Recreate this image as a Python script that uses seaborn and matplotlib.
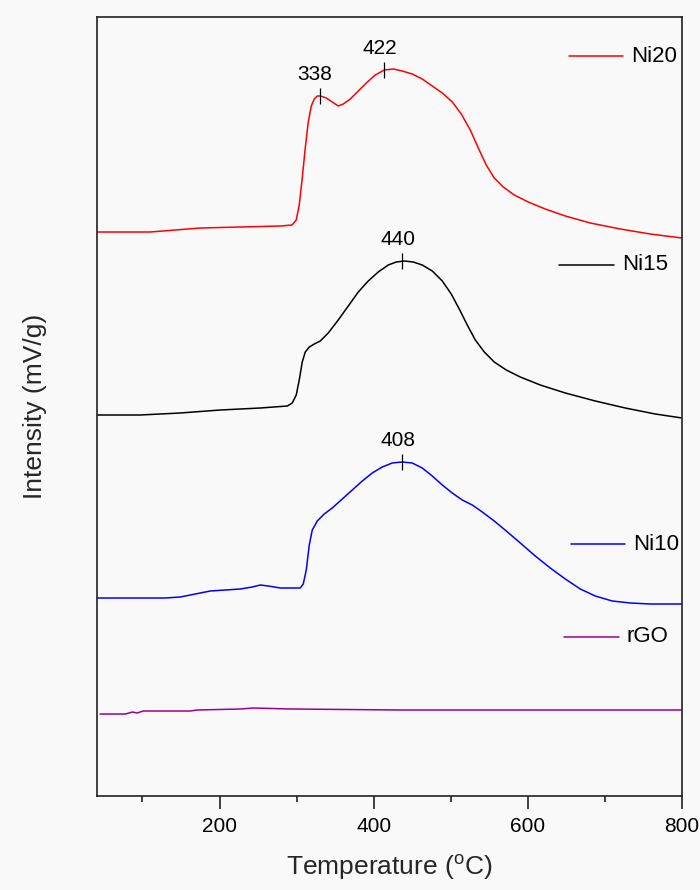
import numpy as np
import pandas as pd
import matplotlib
matplotlib.use("Agg")
import matplotlib.pyplot as plt
import seaborn as sns
from matplotlib.lines import Line2D

# ---------------- data ----------------
ni20_T = [41, 110, 142.5, 175, 227, 279, 294, 299.5, 303.4, 307.3, 311.2, 315.1, 319, 322.9, 326.8,
          330.7, 338.4, 346.2, 354, 360.5, 369.6, 380, 390.4, 402, 413.7, 425.4, 437, 450, 463, 476,
          489, 502, 513.6, 525.3, 535.7, 546, 556.4, 568.1, 582.4, 600.5, 622.6, 648.6, 681, 720,
          758.8, 800]
ni20_I = [5.64, 5.64, 5.66, 5.68, 5.69, 5.70, 5.71, 5.76, 5.91, 6.18, 6.48, 6.74, 6.90, 6.97, 7.00,
          7.00, 6.98, 6.94, 6.90, 6.92, 6.97, 7.05, 7.13, 7.21, 7.26, 7.27, 7.25, 7.22, 7.17, 7.10,
          7.03, 6.94, 6.82, 6.66, 6.48, 6.31, 6.18, 6.09, 6.01, 5.94, 5.87, 5.80, 5.73, 5.67,
          5.62, 5.58]

ni15_T = [41, 97, 149, 201, 253, 288, 294.3, 299.5, 303.4, 307.3, 311.2, 316.4, 322.9, 330.7, 341,
          354, 367, 380, 392.9, 405.9, 418.9, 429.3, 439.7, 451.3, 463, 476, 489, 500.6, 511, 521.4,
          531.8, 543.5, 556.4, 572, 590.2, 616.1, 648.6, 687.5, 726.4, 765.3, 800]
ni15_I = [3.81, 3.81, 3.83, 3.86, 3.88, 3.90, 3.93, 4.01, 4.16, 4.34, 4.44, 4.49, 4.52, 4.55, 4.63,
          4.76, 4.90, 5.04, 5.15, 5.24, 5.31, 5.34, 5.35, 5.34, 5.31, 5.25, 5.15, 5.02, 4.87, 4.71,
          4.56, 4.44, 4.34, 4.26, 4.19, 4.11, 4.03, 3.95, 3.88, 3.82, 3.78]

ni10_T = [41, 129.6, 149, 168.5, 188, 207.4, 226.9, 242.4, 252.8, 263.2, 278.8, 304.7, 308.6, 312.5,
          316.4, 320.3, 326.8, 335.8, 346.2, 359.2, 372.2, 385.2, 398.1, 411.1, 424.1, 437, 450, 463,
          476, 489, 501.9, 514.9, 527.9, 540.9, 556.4, 572, 590.2, 609.6, 629.1, 648.6, 668, 687.5,
          709.5, 732.9, 758.8, 800]
ni10_I = [1.98, 1.98, 1.99, 2.02, 2.05, 2.06, 2.07, 2.09, 2.11, 2.10, 2.08, 2.08, 2.12, 2.26,
          2.51, 2.66, 2.75, 2.82, 2.88, 2.97, 3.06, 3.15, 3.23, 3.29, 3.33, 3.34, 3.33, 3.28,
          3.20, 3.11, 3.03, 2.96, 2.91, 2.84, 2.75, 2.65, 2.53, 2.40, 2.28, 2.17, 2.07, 2.00,
          1.95, 1.93, 1.92, 1.92]

rgo_T = [45, 78, 87, 93, 101, 162, 171, 227, 244, 292, 435, 800]
rgo_I = [0.82, 0.82, 0.84, 0.83, 0.85, 0.85, 0.86, 0.87, 0.88, 0.87, 0.86, 0.86]

series_names = ["Ni20", "Ni15", "Ni10", "rGO"]
series_colors = ["#ff0000", "#000000", "#0000ff", "#990099"]

# peak markers: (series, temperature position, label)
peak_series = ["Ni20", "Ni20", "Ni15", "Ni10"]
peak_T = [330.7, 413.7, 437, 437]
peak_labels = ["338", "422", "440", "408"]

x_ticks_major = [200, 400, 600, 800]
x_ticks_minor = [100, 300, 500, 700]

# ---------------- build long table ----------------
data = {"Ni20": (ni20_T, ni20_I), "Ni15": (ni15_T, ni15_I),
        "Ni10": (ni10_T, ni10_I), "rGO": (rgo_T, rgo_I)}
frames = []
for name in series_names:
    T, I = data[name]
    frames.append(pd.DataFrame({"T": T, "I": I, "sample": name}))
df = pd.concat(frames, ignore_index=True)

# ---------------- styling ----------------
sns.set_theme(style="ticks")
plt.rcParams["font.family"] = ["Liberation Sans", "DejaVu Sans"]
plt.rcParams["mathtext.fontset"] = "custom"
plt.rcParams["mathtext.rm"] = "Liberation Sans"
bg = "#f9f9f9"

fig = plt.figure(figsize=(7.0, 8.9), dpi=100, facecolor=bg)
ax = fig.add_axes([97 / 700, 1 - 796 / 890, 585 / 700, 779 / 890], facecolor=bg)

for name, col in zip(series_names, series_colors):
    sub = df[df["sample"] == name]
    sns.lineplot(data=sub, x="T", y="I", color=col, lw=1.1, ax=ax,
                 legend=False, sort=False, estimator=None)

ax.set_xlim(41, 800)
ax.set_ylim(0, 7.79)

# peak marks and labels
for s, t, lab in zip(peak_series, peak_T, peak_labels):
    T, I = data[s]
    y = np.interp(t, T, I)
    ax.plot([t], [y], marker="|", color="black", ms=11, mew=0.9)
    ax.annotate(lab, (t, y), xytext=(-3 if lab != "338" else -4, 9),
                textcoords="offset points", ha="center", va="bottom",
                fontsize=15, color="black")

# legend-like labels next to each curve (axes fractions)
legend_pos = {"Ni20": (569, 623, 56), "Ni15": (559, 614, 265),
              "Ni10": (571, 625, 544), "rGO": (564, 619, 637)}
for name, col in zip(series_names, series_colors):
    x0, x1, yy = legend_pos[name]
    fx0, fx1 = (x0 - 97) / 585, (x1 - 97) / 585
    fy = (796 - yy) / 779
    ax.add_line(Line2D([fx0, fx1], [fy, fy], transform=ax.transAxes, color=col, lw=1.1))
    ax.text(fx1 + 8 / 585, fy, name, transform=ax.transAxes, ha="left", va="center",
            fontsize=16, color="black")

# axes
ax.set_xticks(x_ticks_major)
ax.set_xticks(x_ticks_minor, minor=True)
ax.set_yticks([])
ax.tick_params(axis="x", which="major", direction="out", length=9, width=1.2,
               labelsize=15, pad=6, colors="#222222", labelcolor="black")
ax.tick_params(axis="x", which="minor", direction="out", length=4.5, width=1.2,
               colors="#222222")
for sp in ax.spines.values():
    sp.set_visible(True)
    sp.set_linewidth(1.2)
    sp.set_color("#222222")

ax.set_xlabel(r"Temperature ($^{\mathrm{o}}$C)", fontsize=19, labelpad=12)
ax.set_ylabel("Intensity (mV/g)", fontsize=19, labelpad=36)

fig.savefig("out.png", dpi=100, facecolor=bg)
